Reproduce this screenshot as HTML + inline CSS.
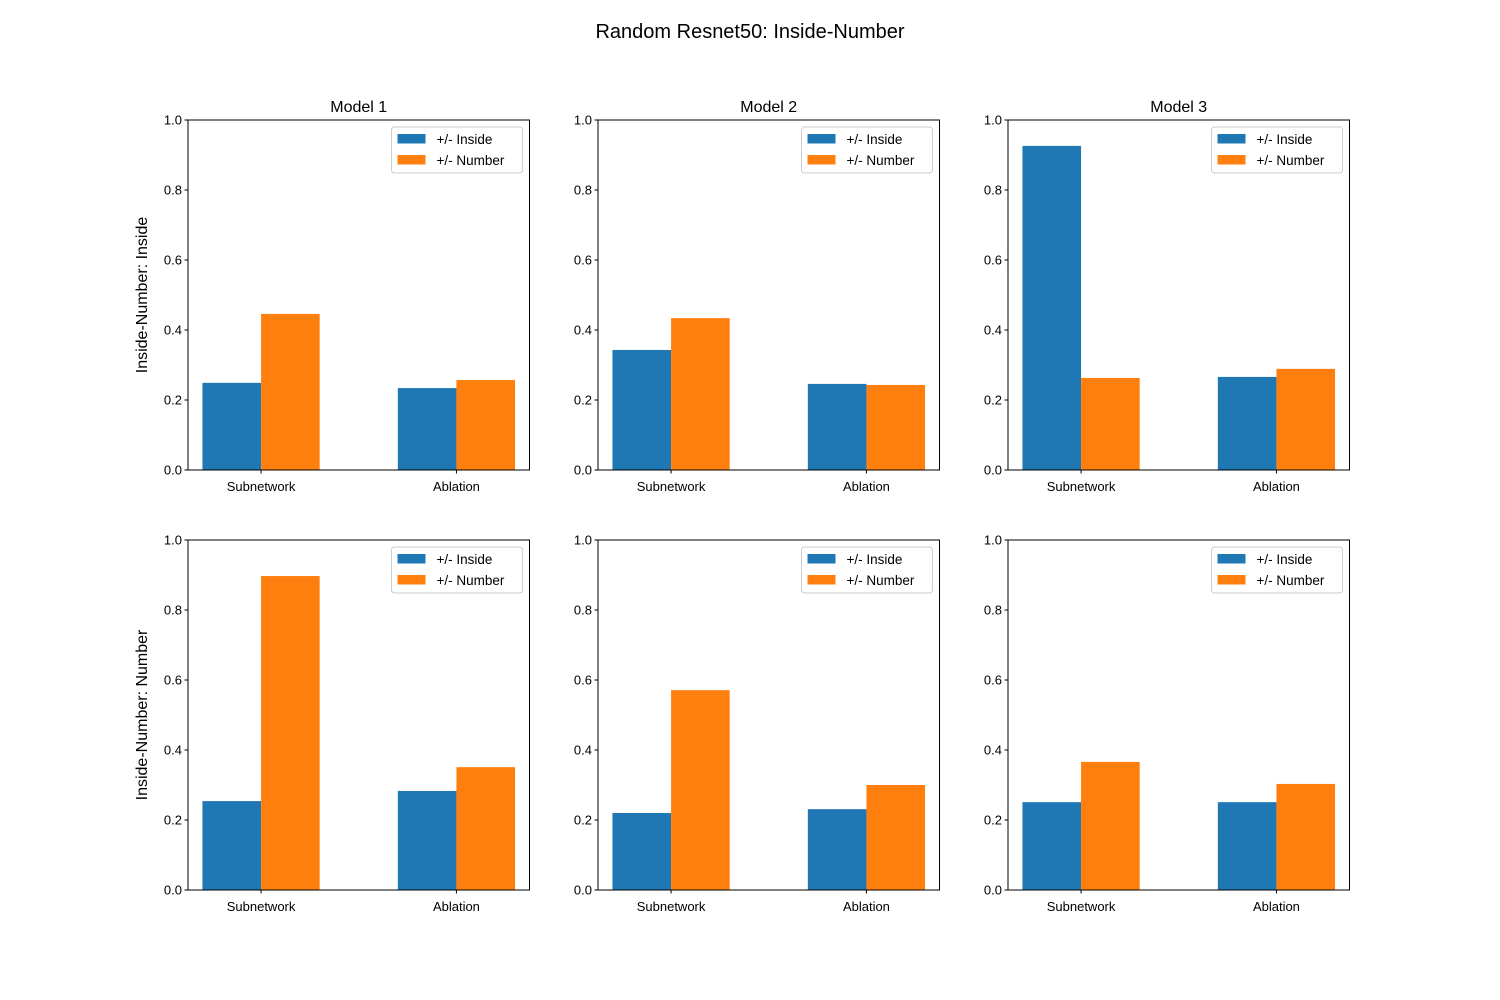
<!DOCTYPE html>
<html><head><meta charset="utf-8"><style>body{margin:0;background:#fff}svg{display:block;font-family:"Liberation Sans","DejaVu Sans",sans-serif}</style></head>
<body>
<svg id="fig" width="1500" height="1000">
<text x="750" y="38" text-anchor="middle" font-size="20">Random Resnet50: Inside-Number</text>
</svg>
<script>
const categories = ["Subnetwork", "Ablation"];
const seriesNames = ["+/- Inside", "+/- Number"];
const modelTitles = ["Model 1", "Model 2", "Model 3"];
const rowLabels = ["Inside-Number: Inside", "Inside-Number: Number"];
const yTicks = [0, 0.2, 0.4, 0.6, 0.8, 1.0];
const yTickLabels = ["0.0", "0.2", "0.4", "0.6", "0.8", "1.0"];
// values[row][model] = [insideSeries per category, numberSeries per category]
const insideRow0 = [[0.249, 0.234], [0.343, 0.246], [0.926, 0.266]];
const numberRow0 = [[0.446, 0.257], [0.434, 0.243], [0.263, 0.289]];
const insideRow1 = [[0.254, 0.283], [0.220, 0.231], [0.251, 0.251]];
const numberRow1 = [[0.897, 0.351], [0.571, 0.300], [0.366, 0.303]];
const insideRows = [insideRow0, insideRow1];
const numberRows = [numberRow0, numberRow1];

const NS = "http://www.w3.org/2000/svg";
const svg = document.getElementById("fig");
const colors = ["#1f77b4", "#ff7f0e"];
const axLeft = [188, 598, 1008], axW = 341.5, axTop = [120, 540], axH = 350;
function mk(tag, attrs, parent, text) {
  const e = document.createElementNS(NS, tag);
  for (const k in attrs) e.setAttribute(k, attrs[k]);
  if (text !== undefined) e.textContent = text;
  (parent || svg).appendChild(e);
  return e;
}
for (let r = 0; r < 2; r++) {
  for (let m = 0; m < 3; m++) {
    const x0 = axLeft[m], y0 = axTop[r];
    const g = mk("g", {});
    
    
    const xs = v => x0 + (v + 0.374) / 1.748 * axW;
    const ys = v => y0 + axH - v * axH;
    const vals = [insideRows[r][m], numberRows[r][m]];
    for (let s = 0; s < 2; s++) {
      for (let c = 0; c < categories.length; c++) {
        const left = xs(c - 0.3 + s * 0.3), right = xs(c + s * 0.3);
        const b = mk("rect", { x: left, y: ys(vals[s][c]), width: right - left, height: ys(0) - ys(vals[s][c]), fill: colors[s] }, g);
        
        
      }
    }
    const fr = mk("rect", { x: x0, y: y0, width: axW, height: axH, fill: "none", stroke: "#000", "stroke-width": 1 }, g);
    
    
    yTicks.forEach((t, i) => {
      const y = ys(t);
      mk("line", { x1: x0 - 3.5, x2: x0, y1: y, y2: y, stroke: "#000" }, g);
      const tl = mk("text", { x: x0 - 6, y: y + 4.5, "text-anchor": "end", "font-size": 13 }, g, yTickLabels[i]);
      
      
    });
    categories.forEach((c, i) => {
      const x = xs(i);
      mk("line", { x1: x, x2: x, y1: y0 + axH, y2: y0 + axH + 3.5, stroke: "#000" }, g);
      const tl = mk("text", { x: x, y: y0 + axH + 21, "text-anchor": "middle", "font-size": 13 }, g, c);
      
      
    });
    if (r === 0) {
      const t = mk("text", { x: x0 + axW / 2, y: y0 - 8, "text-anchor": "middle", "font-size": 16 }, g, modelTitles[m]);
      
      
    }
    if (m === 0) {
      const t = mk("text", { x: 0, y: 0, "text-anchor": "middle", "font-size": 16, transform: "translate(147," + (y0 + axH / 2) + ") rotate(-90)" }, g, rowLabels[r]);
      
      
    }
    const lg = mk("g", {}, g);
    
    
    const lx = x0 + axW - 138;
    mk("rect", { x: lx, y: y0 + 7, width: 131, height: 46, rx: 3, fill: "#fff", "fill-opacity": 0.8, stroke: "#ccc" }, lg);
    seriesNames.forEach((n, i) => {
      mk("rect", { x: lx + 6, y: y0 + 14 + i * 21, width: 28, height: 9.5, fill: colors[i] }, lg);
      const t = mk("text", { x: lx + 45, y: y0 + 24 + i * 21, "font-size": 13.5 }, lg, n);
      
      
    });
  }
}
</script>
</body></html>
